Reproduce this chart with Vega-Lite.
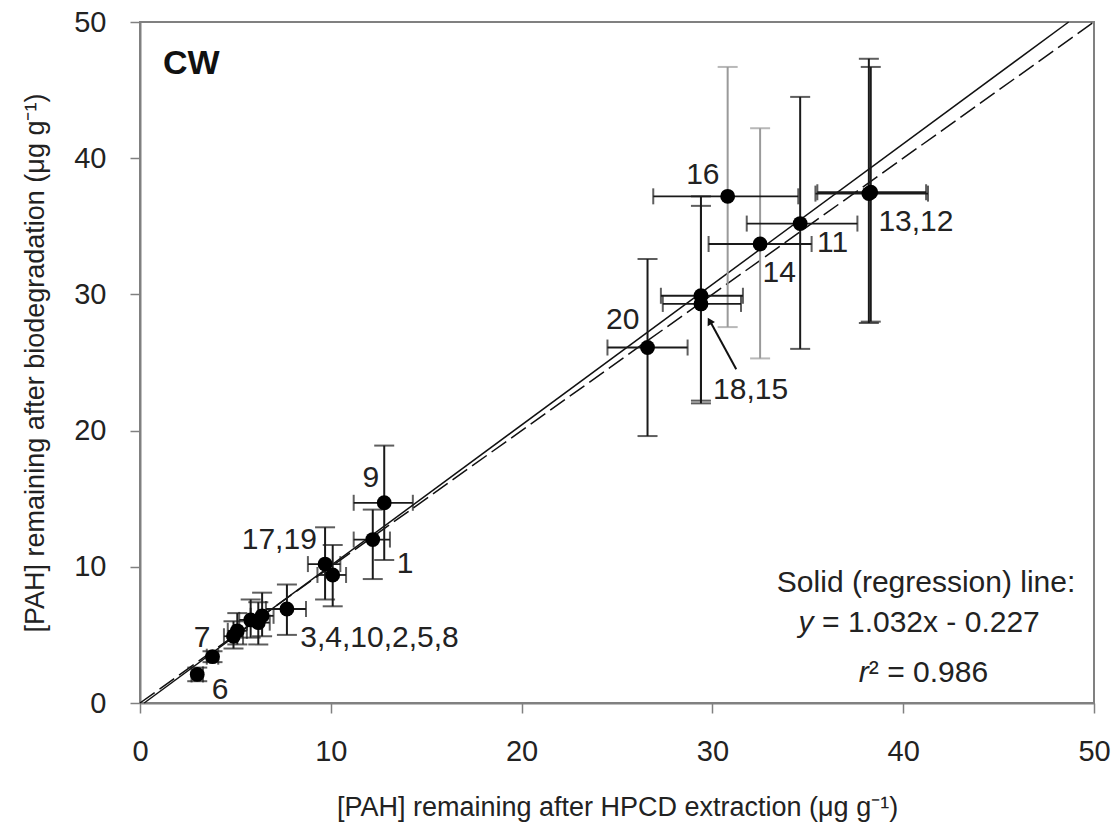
{
  "$schema": "https://vega.github.io/schema/vega-lite/v6.json",
  "width": 954,
  "height": 681,
  "autosize": "none",
  "padding": {"left": 140, "top": 22, "right": 22, "bottom": 131},
  "background": "white",
  "config": {
    "font": "Liberation Sans",
    "view": {"stroke": "#808080", "strokeWidth": 2},
    "axis": {
      "grid": false,
      "domainColor": "#808080",
      "domainWidth": 2,
      "tickColor": "#808080",
      "tickWidth": 1.5,
      "tickSize": 10,
      "labelFont": "Liberation Sans",
      "labelFontSize": 29,
      "labelColor": "#222222",
      "titleFont": "Liberation Sans",
      "titleFontSize": 27,
      "titleFontWeight": "normal",
      "titleColor": "#222222",
      "labelFlush": false
    }
  },
  "datasets": {
    "pts": [
      {"id": "6", "x": 3.0, "y": 2.1, "xlo": 2.7, "xhi": 3.3, "ylo": 1.6, "yhi": 2.6},
      {"id": "7", "x": 3.8, "y": 3.4, "xlo": 3.5, "xhi": 4.1, "ylo": 3.0, "yhi": 3.8},
      {"id": "8", "x": 4.9, "y": 4.9, "xlo": 4.4, "xhi": 5.4, "ylo": 4.0, "yhi": 6.0},
      {"id": "5", "x": 5.1, "y": 5.3, "xlo": 4.6, "xhi": 5.6, "ylo": 4.3, "yhi": 6.6},
      {"id": "2", "x": 5.8, "y": 6.1, "xlo": 5.2, "xhi": 6.3, "ylo": 4.8, "yhi": 7.6},
      {"id": "10", "x": 6.2, "y": 5.9, "xlo": 5.6, "xhi": 6.8, "ylo": 4.3, "yhi": 7.4},
      {"id": "4", "x": 6.4, "y": 6.4, "xlo": 5.8, "xhi": 7.0, "ylo": 4.9, "yhi": 8.1},
      {"id": "3", "x": 7.7, "y": 6.9, "xlo": 6.6, "xhi": 8.7, "ylo": 5.0, "yhi": 8.7},
      {"id": "19", "x": 10.1, "y": 9.4, "xlo": 9.3, "xhi": 10.8, "ylo": 7.1, "yhi": 11.6},
      {"id": "17", "x": 9.7, "y": 10.2, "xlo": 8.8, "xhi": 10.5, "ylo": 7.6, "yhi": 12.9},
      {"id": "1", "x": 12.2, "y": 12.0, "xlo": 11.2, "xhi": 13.1, "ylo": 9.1, "yhi": 14.2},
      {"id": "9", "x": 12.8, "y": 14.7, "xlo": 11.2, "xhi": 14.3, "ylo": 10.5, "yhi": 18.9},
      {"id": "20", "x": 26.6, "y": 26.1, "xlo": 24.5, "xhi": 28.7, "ylo": 19.6, "yhi": 32.6},
      {"id": "15", "x": 29.4, "y": 29.3, "xlo": 27.4, "xhi": 31.5, "ylo": 22.0, "yhi": 36.5},
      {"id": "18", "x": 29.4, "y": 29.9, "xlo": 27.3, "xhi": 31.6, "ylo": 22.2, "yhi": 37.2},
      {"id": "16", "x": 30.8, "y": 37.2, "xlo": 26.9, "xhi": 34.5, "ylo": 27.6, "yhi": 46.7},
      {"id": "14", "x": 32.5, "y": 33.7, "xlo": 29.8, "xhi": 35.2, "ylo": 25.3, "yhi": 42.2},
      {"id": "11", "x": 34.6, "y": 35.2, "xlo": 31.8, "xhi": 37.6, "ylo": 26.0, "yhi": 44.5},
      {"id": "13", "x": 38.2, "y": 37.4, "xlo": 35.4, "xhi": 41.3, "ylo": 27.9, "yhi": 47.3},
      {"id": "12", "x": 38.3, "y": 37.5, "xlo": 35.5, "xhi": 41.2, "ylo": 28.0, "yhi": 46.7}
    ],
    "lines": [
      {"line": "regression", "x": 0.22, "y": 0},
      {"line": "regression", "x": 48.67, "y": 50},
      {"line": "one-to-one", "x": 0, "y": 0},
      {"line": "one-to-one", "x": 50, "y": 50}
    ],
    "labelsC": [
      {"label": "16", "x": 29.5, "y": 38.8},
      {"label": "11", "x": 36.3, "y": 33.8},
      {"label": "14", "x": 33.5, "y": 31.6},
      {"label": "20", "x": 25.3, "y": 28.1},
      {"label": "18,15", "x": 32.0, "y": 23.0},
      {"label": "9", "x": 12.1, "y": 16.5},
      {"label": "1", "x": 13.9, "y": 10.2},
      {"label": "17,19", "x": 7.3, "y": 12.0},
      {"label": "7", "x": 3.25, "y": 4.8},
      {"label": "6", "x": 4.2, "y": 0.95},
      {"label": "Solid (regression) line:", "x": 41.2, "y": 8.8}
    ],
    "labelsL": [
      {"label": "13,12", "x": 38.7, "y": 35.3},
      {"label": "3,4,10,2,5,8", "x": 8.4, "y": 4.8},
      {"label": "= 1.032x - 0.227", "x": 35.75, "y": 5.9},
      {"label": "² = 0.986", "x": 38.2, "y": 2.2}
    ],
    "italic": [
      {"label": "y", "x": 35.3, "y": 5.9},
      {"label": "r", "x": 38.2, "y": 2.2}
    ],
    "title": [
      {"label": "CW", "x": 1.2, "y": 46.9}
    ],
    "arrow": [
      {"x": 31.25, "y": 24.5, "x2": 29.85, "y2": 28.1}
    ],
    "arrowhead": [
      {"x": 29.85, "y": 28.05}
    ]
  },
  "encoding": {
    "x": {
      "field": "x",
      "type": "quantitative",
      "title": "[PAH] remaining after HPCD extraction (μg g⁻¹)",
      "scale": {"domain": [0, 50], "nice": false, "zero": false},
      "axis": {"values": [0, 10, 20, 30, 40, 50], "labelPadding": 24, "titlePadding": 28}
    },
    "y": {
      "field": "y",
      "type": "quantitative",
      "title": "[PAH] remaining after biodegradation (μg g⁻¹)",
      "scale": {"domain": [0, 50], "nice": false, "zero": false},
      "axis": {"values": [0, 10, 20, 30, 40, 50], "labelPadding": 24, "titlePadding": 24}
    }
  },
  "layer": [
    {
      "data": {"name": "lines"},
      "transform": [{"filter": "datum.line === 'one-to-one'"}],
      "mark": {"type": "line", "color": "#111111", "strokeWidth": 1.5, "strokeDash": [18, 6]},
      "encoding": {}
    },
    {
      "data": {"name": "lines"},
      "transform": [{"filter": "datum.line === 'regression'"}],
      "mark": {"type": "line", "color": "#111111", "strokeWidth": 1.5},
      "encoding": {}
    },
    {
      "data": {"name": "pts"},
      "mark": {"type": "rule", "strokeWidth": 2},
      "encoding": {
        "y": {"field": "ylo", "type": "quantitative", "title": "[PAH] remaining after biodegradation (μg g⁻¹)"},
        "y2": {"field": "yhi"},
        "color": {"condition": {"test": "datum.id === '16' || datum.id === '14'", "value": "#9a9a9a"}, "value": "#1a1a1a"}
      }
    },
    {
      "data": {"name": "pts"},
      "mark": {"type": "tick", "orient": "horizontal", "size": 20, "thickness": 2},
      "encoding": {
        "y": {"field": "ylo", "type": "quantitative", "title": "[PAH] remaining after biodegradation (μg g⁻¹)"},
        "color": {"condition": {"test": "datum.id === '16' || datum.id === '14'", "value": "#9a9a9a"}, "value": "#1a1a1a"}
      }
    },
    {
      "data": {"name": "pts"},
      "mark": {"type": "tick", "orient": "horizontal", "size": 20, "thickness": 2},
      "encoding": {
        "y": {"field": "yhi", "type": "quantitative", "title": "[PAH] remaining after biodegradation (μg g⁻¹)"},
        "color": {"condition": {"test": "datum.id === '16' || datum.id === '14'", "value": "#9a9a9a"}, "value": "#1a1a1a"}
      }
    },
    {
      "data": {"name": "pts"},
      "mark": {"type": "rule", "strokeWidth": 1.8, "color": "#1a1a1a"},
      "encoding": {
        "x": {"field": "xlo", "type": "quantitative", "title": "[PAH] remaining after HPCD extraction (μg g⁻¹)"},
        "x2": {"field": "xhi"}
      }
    },
    {
      "data": {"name": "pts"},
      "mark": {"type": "tick", "orient": "vertical", "size": 16, "thickness": 2, "color": "#1a1a1a"},
      "encoding": {
        "x": {"field": "xlo", "type": "quantitative", "title": "[PAH] remaining after HPCD extraction (μg g⁻¹)"}
      }
    },
    {
      "data": {"name": "pts"},
      "mark": {"type": "tick", "orient": "vertical", "size": 16, "thickness": 2, "color": "#1a1a1a"},
      "encoding": {
        "x": {"field": "xhi", "type": "quantitative", "title": "[PAH] remaining after HPCD extraction (μg g⁻¹)"}
      }
    },
    {
      "data": {"name": "pts"},
      "mark": {"type": "point", "shape": "circle", "filled": true, "opacity": 1, "color": "#000000", "size": 220}
    },
    {
      "data": {"name": "arrow"},
      "mark": {"type": "rule", "color": "#111111", "strokeWidth": 2},
      "encoding": {
        "x2": {"field": "x2"},
        "y2": {"field": "y2"}
      }
    },
    {
      "data": {"name": "arrowhead"},
      "mark": {"type": "point", "shape": "triangle-up", "filled": true, "opacity": 1, "color": "#111111", "size": 70, "angle": 331}
    },
    {
      "data": {"name": "labelsC"},
      "mark": {"type": "text", "font": "Liberation Sans", "fontSize": 30, "color": "#222222", "align": "center", "baseline": "middle"},
      "encoding": {"text": {"field": "label"}}
    },
    {
      "data": {"name": "labelsL"},
      "mark": {"type": "text", "font": "Liberation Sans", "fontSize": 30, "color": "#222222", "align": "left", "baseline": "middle"},
      "encoding": {"text": {"field": "label"}}
    },
    {
      "data": {"name": "italic"},
      "mark": {"type": "text", "font": "Liberation Sans", "fontSize": 30, "fontStyle": "italic", "color": "#222222", "align": "right", "baseline": "middle"},
      "encoding": {"text": {"field": "label"}}
    },
    {
      "data": {"name": "title"},
      "mark": {"type": "text", "font": "Liberation Sans", "fontSize": 34, "fontWeight": "bold", "color": "#111111", "align": "left", "baseline": "middle"},
      "encoding": {"text": {"field": "label"}}
    }
  ]
}
